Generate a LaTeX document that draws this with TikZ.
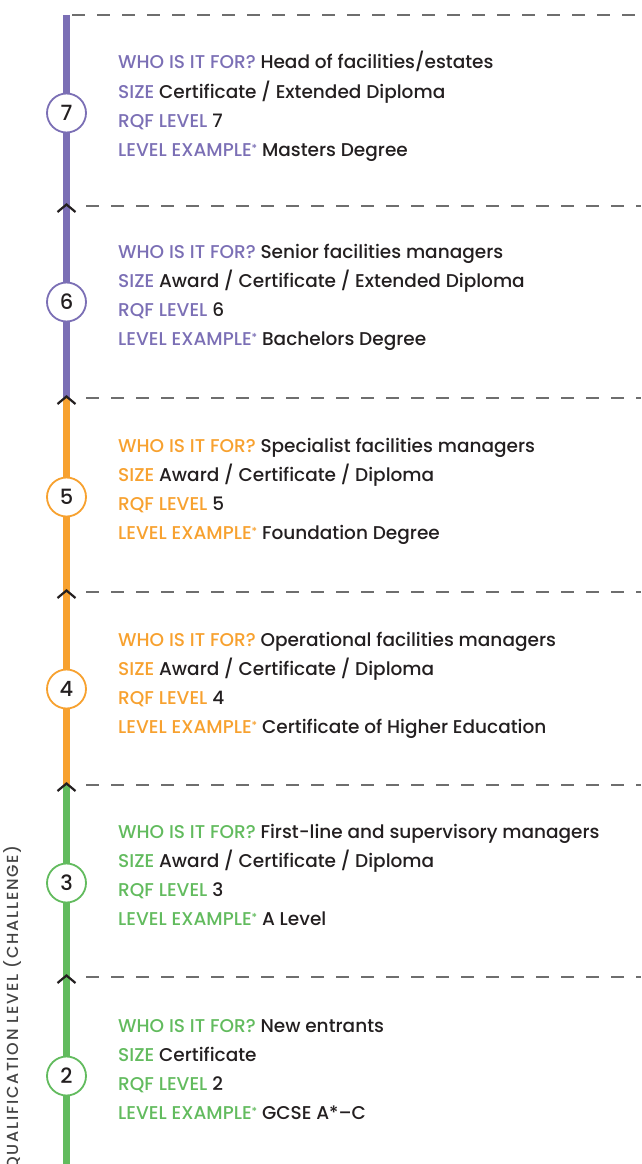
\documentclass[tikz,border=0pt]{standalone}
\usepackage{fontspec}
\setmainfont{Poppins Medium}
\definecolor{purp}{HTML}{7B6FB5}
\definecolor{orng}{HTML}{F7A12F}
\definecolor{grn}{HTML}{62BB5E}
\definecolor{ink}{HTML}{231F20}
\definecolor{dashgray}{HTML}{6E6E6E}
\definecolor{sidegray}{HTML}{444444}
\newcommand\qblock[7]{%
  \node[txt] (#1w) at (118,#2) {\textcolor{#3}{WHO IS IT FOR?} #4};
  \node[txt] (#1s) at (118,#2+29) {\textcolor{#3}{SIZE} #5};
  \node[txt] (#1r) at (118,#2+58) {\textcolor{#3}{RQF LEVEL} #6};
  \node[txt] (#1e) at (118,#2+87) {\textcolor{#3}{LEVEL EXAMPLE\raisebox{4pt}{\fontsize{11}{11}\selectfont*}} #7};
}
\begin{document}
\begin{tikzpicture}[x=1pt,y=-1pt,
  txt/.style={anchor=base west, inner sep=0pt, text=ink, font=\fontsize{18.5}{20}\selectfont},
  bar/.style={line width=7pt},
  lvlcircle/.style={circle, draw=#1, line width=1.8pt, fill=white, minimum size=39pt, inner sep=0pt, text=ink, font=\fontsize{21}{22}\selectfont},
  dashline/.style={draw=dashgray, line width=1.4pt, dash pattern=on 13pt off 12pt},
  chev/.style={draw=ink, line width=2.2pt, miter limit=10}
]
\useasboundingbox (0,0) rectangle (641,1164);
\clip (0,0) rectangle (641,1164);
% bar coordinates
\coordinate (top) at (66.5,15);
\coordinate (b65) at (66.5,398);
\coordinate (b43) at (66.5,785);
\coordinate (bot) at (66.5,1168);
\draw[bar, purp] (top) -- (b65);
\draw[bar, orng] (b65) -- (b43);
\draw[bar, grn] (b43) -- (bot);
% dashed separators
\coordinate (d0a) at (72,15);  \coordinate (d0b) at (641,15);
\coordinate (d1a) at (86,206); \coordinate (d1b) at (641,206);
\coordinate (d2a) at (86,398); \coordinate (d2b) at (641,398);
\coordinate (d3a) at (86,592); \coordinate (d3b) at (641,592);
\coordinate (d4a) at (86,785); \coordinate (d4b) at (641,785);
\coordinate (d5a) at (86,977); \coordinate (d5b) at (641,977);
\foreach \i in {0,...,5} { \draw[dashline] (d\i a) -- (d\i b); }
% chevrons
\foreach \y in {206,398,592,785,977} {
  \draw[chev] (57.5,\y+6) -- (66.5,\y-1.5) -- (75.5,\y+6);
}
% circles
\node[lvlcircle=purp] (c7) at (66.5,113) {7};
\node[lvlcircle=purp] (c6) at (66.5,302) {6};
\node[lvlcircle=orng] (c5) at (66.5,497) {5};
\node[lvlcircle=orng] (c4) at (66.5,689) {4};
\node[lvlcircle=grn]  (c3) at (66.5,883) {3};
\node[lvlcircle=grn]  (c2) at (66.5,1076) {2};
% text blocks
\qblock{l7}{69}{purp}{Head of facilities/estates}{Certificate / Extended Diploma}{7}{Masters Degree}
\qblock{l6}{258}{purp}{Senior facilities managers}{Award / Certificate / Extended Diploma}{6}{Bachelors Degree}
\qblock{l5}{452}{orng}{Specialist facilities managers}{Award / Certificate / Diploma}{5}{Foundation Degree}
\qblock{l4}{646}{orng}{Operational facilities managers}{Award / Certificate / Diploma}{4}{Certificate of Higher Education}
\qblock{l3}{838}{grn}{First-line and supervisory managers}{Award / Certificate / Diploma}{3}{A Level}
\qblock{l2}{1032}{grn}{New entrants}{Certificate}{2}{GCSE A*–C}
% side label
\node[rotate=90, anchor=base west, inner sep=0pt, text=sidegray,
      font=\fontsize{16}{16}\selectfont\addfontfeatures{LetterSpace=11}] (side) at (18,1170) {QUALIFICATION LEVEL (CHALLENGE)};
\end{tikzpicture}
\end{document}
